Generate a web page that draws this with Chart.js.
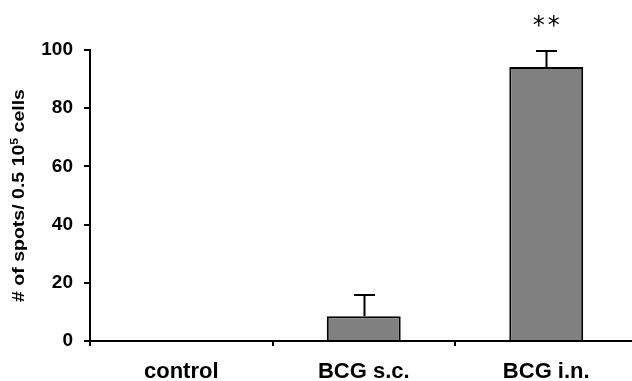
<!DOCTYPE html>
<html>
<head>
<meta charset="utf-8">
<script src="https://cdn.jsdelivr.net/npm/chart.js@4"></script>
<style>
  html, body { margin: 0; padding: 0; background: #fff; overflow: hidden; }
  #wrap { width: 640px; height: 381px; position: relative; }
</style>
</head>
<body>
<div id="wrap"><canvas id="c" width="640" height="381"></canvas></div>
<script>
// ---- data ----
const categories = ["control", "BCG s.c.", "BCG i.n."];
const values = [0, 8.5, 94.2];
const errors = [0, 7.3, 5.3];
const sigLabels = ["", "", "**"];
const yTicks = [0, 20, 40, 60, 80, 100];
const yTitleMain = "# of spots/ 0.5 10";
const yTitleSup = "5";
const yTitleEnd = " cells";

const FONT = '"Liberation Sans", Arial, sans-serif';

const errorBarPlugin = {
  id: 'errorBars',
  afterDatasetsDraw(chart) {
    const ctx = chart.ctx;
    const meta = chart.getDatasetMeta(0);
    const ys = chart.scales.y;
    ctx.save();
    ctx.strokeStyle = '#000';
    ctx.lineWidth = 2;
    meta.data.forEach((bar, i) => {
      if (!errors[i]) return;
      const x = Math.round(bar.x) + 0.5;
      const yTop = ys.getPixelForValue(values[i]);
      const yErr = Math.round(ys.getPixelForValue(values[i] + errors[i]));
      ctx.beginPath();
      ctx.moveTo(x, yTop);
      ctx.lineTo(x, yErr);
      ctx.moveTo(x - 10.5, yErr);
      ctx.lineTo(x + 10.5, yErr);
      ctx.stroke();
    });
    // significance labels
    ctx.fillStyle = '#000';
    ctx.font = '24px "DejaVu Sans", sans-serif';
    ctx.textAlign = 'center';
    ctx.textBaseline = 'alphabetic';
    try { ctx.letterSpacing = '3px'; } catch (e) {}
    meta.data.forEach((bar, i) => {
      if (!sigLabels[i]) return;
      const yErr = ys.getPixelForValue(values[i] + errors[i]);
      const cy = yErr - 30;
      const m = ctx.measureText(sigLabels[i]);
      const base = cy + (m.actualBoundingBoxAscent - m.actualBoundingBoxDescent) / 2;
      ctx.fillText(sigLabels[i], bar.x + 1.5, base);
    });
    ctx.restore();
  },
  afterDraw(chart) {
    const ctx = chart.ctx;
    const area = chart.chartArea;
    ctx.save();
    ctx.fillStyle = '#000';
    ctx.textBaseline = 'middle';
    ctx.textAlign = 'left';
    const fMain = 'bold 16px ' + FONT;
    const fSup = 'bold 10px ' + FONT;
    const sx = 1.22;
    ctx.font = fMain;
    const w1 = ctx.measureText(yTitleMain).width;
    const w3 = ctx.measureText(yTitleEnd).width;
    ctx.font = fSup;
    const w2 = ctx.measureText(yTitleSup).width;
    const total = (w1 + w2 + w3) * sx;
    const cy = (area.top + area.bottom) / 2;
    ctx.translate(20, cy);
    ctx.rotate(-Math.PI / 2);
    ctx.scale(sx, 1);
    let x = -total / 2 / sx;
    ctx.font = fMain;
    ctx.fillText(yTitleMain, x, 0);
    x += w1;
    ctx.font = fSup;
    ctx.fillText(yTitleSup, x, -5);
    x += w2;
    ctx.font = fMain;
    ctx.fillText(yTitleEnd, x, 0);
    ctx.restore();
  }
};

new Chart(document.getElementById('c'), {
  type: 'bar',
  data: {
    labels: categories,
    datasets: [{
      data: values,
      backgroundColor: '#808080',
      borderColor: '#000',
      borderWidth: 2,
      borderSkipped: 'bottom',
      barPercentage: 0.405,
      categoryPercentage: 1.0
    }]
  },
  options: {
    responsive: false,
    animation: false,
    devicePixelRatio: 1,
    layout: { padding: { top: 50, right: 2.5, left: 0, bottom: 0 } },
    plugins: {
      legend: { display: false },
      tooltip: { enabled: false },
      title: { display: false }
    },
    scales: {
      x: {
        afterFit(scale) { scale.height = 40; },
        border: { display: true, color: '#000', width: 2 },
        grid: { display: true, drawOnChartArea: false, drawTicks: true, tickLength: 5, color: '#000', lineWidth: 2, offset: true },
        ticks: {
          color: '#000',
          font: { family: FONT, size: 22, weight: 'bold' },
          padding: 13,
          maxRotation: 0
        }
      },
      y: {
        min: 0,
        max: 100,
        afterFit(scale) { scale.width = 90; },
        afterBuildTicks(scale) { scale.ticks = yTicks.map(v => ({ value: v })); },
        border: { display: true, color: '#000', width: 2 },
        grid: { display: true, drawOnChartArea: false, drawTicks: true, tickLength: 6, color: '#000', lineWidth: 2 },
        ticks: {
          color: '#000',
          font: { family: FONT, size: 19, weight: 'bold' },
          padding: 11
        }
      }
    }
  },
  plugins: [errorBarPlugin]
});
</script>
</body>
</html>
